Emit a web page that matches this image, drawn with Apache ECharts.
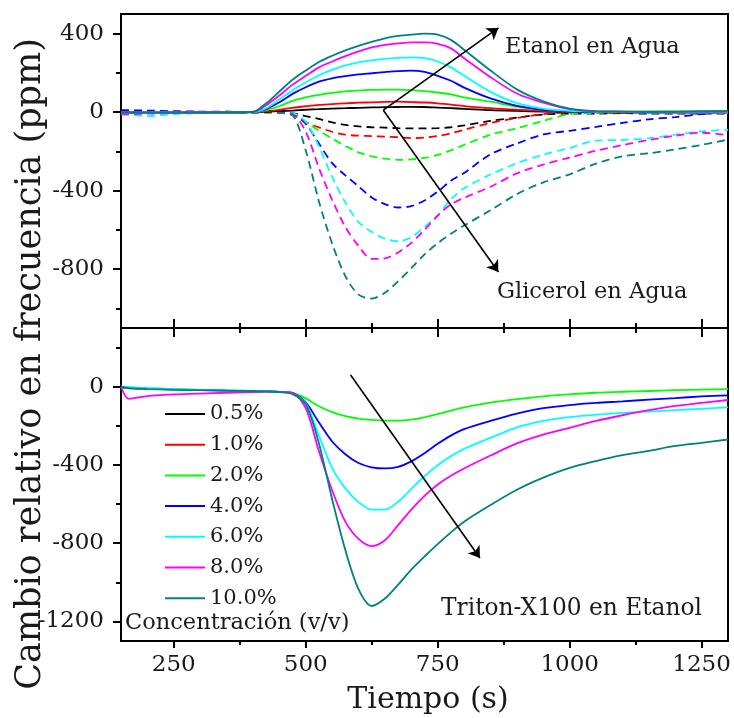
<!DOCTYPE html>
<html><head><meta charset="utf-8">
<script src="https://cdn.jsdelivr.net/npm/echarts@6/dist/echarts.min.js"></script>
<style>html,body{margin:0;padding:0;background:#fff}#c{width:734px;height:718px}</style>
</head><body><div id="c"></div>
<script>
// ---- data ----
const LABELS = ['0.5%','1.0%','2.0%','4.0%','6.0%','8.0%','10.0%'];
const COLORS = ['#000000','#ff0000','#00ff00','#0000ff','#00ffff','#ff00ff','#008080'];
const T_TOP = [150,200,250,300,350,400,425,450,475,500,525,550,575,600,625,650,675,700,725,750,775,800,850,900,950,1000,1050,1100,1150,1200,1250,1300];
// Etanol en Agua (solid)
const E05  = [-3,-2,-3,-2,-2,0,2,5,8,12,15,18,20,22,24,25,26,27,26,23,20,17,10,6,3,1,0,-2,0,-3,-2,-3];
const E10  = [-2,-3,-2,-3,-2,0,5,12,22,30,37,41,45,48,50,52,53,51,49,45,38,31,20,12,6,2,0,-1,0,-1,0,-2];
const E20  = [-2,-2,-3,-2,-2,0,10,30,57,75,88,98,106,110,113,115,115,112,107,100,90,75,53,28,12,4,2,2,3,4,4,5];
const E40  = [-2,-2,-2,-2,-1,0,15,50,93,127,155,172,183,192,198,204,209,211,205,185,160,125,70,32,12,3,0,0,-2,0,2,3];
const E60  = [-3,-2,-2,-2,-1,0,20,65,112,152,188,215,238,254,264,271,276,279,275,258,228,185,103,46,18,6,2,0,-2,-3,-2,-2];
const E80  = [-3,-3,-2,-2,-1,0,35,85,140,185,228,258,285,310,330,343,350,355,355,348,325,275,178,95,48,15,3,2,0,0,2,2];
const E100 = [-3,-3,-2,-2,-1,2,45,105,165,212,255,287,315,338,358,376,388,395,400,395,368,318,212,116,55,18,5,3,2,3,4,5];
// Glicerol en Agua (dashed)
const G05  = [0,-2,0,-2,0,-2,0,0,-5,-20,-35,-52,-65,-73,-77,-79,-82,-83,-83,-82,-77,-68,-45,-28,-12,-8,-8,-5,-8,-8,-8,-8];
const G10  = [2,0,-2,0,-2,0,-2,-3,-15,-50,-78,-100,-115,-120,-122,-125,-128,-132,-130,-122,-108,-90,-55,-30,-10,-2,0,-2,0,-3,-2,-3];
const G20  = [0,2,0,0,2,0,-2,-3,-5,-50,-95,-135,-172,-205,-225,-237,-243,-241,-233,-218,-195,-167,-115,-82,-45,-10,-5,-3,-3,-3,-3,-3];
const G40  = [10,8,5,3,2,0,0,-2,-8,-60,-160,-260,-322,-378,-435,-469,-486,-479,-450,-405,-350,-310,-215,-160,-114,-95,-75,-55,-37,-25,-10,0];
const G60  = [-8,-20,-10,-5,-3,-2,0,-2,-5,-50,-175,-330,-460,-560,-610,-645,-658,-638,-585,-525,-445,-388,-318,-260,-217,-183,-145,-142,-133,-115,-98,-90];
const G80  = [-12,-8,-5,-3,-2,-2,0,-2,-10,-100,-285,-447,-585,-682,-748,-745,-715,-666,-600,-528,-470,-437,-380,-312,-267,-232,-197,-168,-142,-120,-105,-117];
const G100 = [-3,-2,0,-2,0,-2,0,-3,-15,-195,-455,-670,-835,-930,-950,-920,-862,-795,-725,-668,-620,-578,-500,-418,-358,-317,-262,-225,-210,-190,-167,-140];
// Triton-X100 en Etanol (solid)
const T_BOT = [150,165,200,250,300,350,400,425,450,475,500,525,550,575,600,625,650,675,700,725,750,775,800,850,900,950,1000,1050,1100,1150,1200,1250,1300];
const X05  = [];
const X10  = [];
const X20  = [0,-3,-8,-12,-16,-19,-21,-23,-26,-32,-60,-100,-130,-150,-163,-170,-173,-173,-168,-157,-140,-122,-106,-82,-64,-49,-39,-31,-26,-22,-18,-15,-12];
const X40  = [-5,-6,-10,-14,-18,-20,-22,-23,-26,-33,-80,-183,-280,-345,-390,-412,-418,-410,-382,-340,-292,-250,-217,-175,-138,-110,-94,-83,-75,-66,-58,-50,-44];
const X60  = [0,-3,-8,-12,-16,-19,-21,-23,-26,-35,-85,-250,-415,-520,-590,-628,-628,-588,-522,-458,-402,-355,-318,-262,-208,-175,-156,-143,-134,-127,-120,-113,-106];
const X80  = [0,-62,-48,-40,-35,-31,-28,-27,-27,-32,-110,-330,-530,-690,-778,-815,-785,-708,-628,-558,-500,-455,-418,-352,-290,-245,-210,-175,-146,-120,-98,-83,-68];
const X100 = [0,-8,-12,-16,-18,-20,-22,-24,-28,-38,-90,-290,-575,-835,-1035,-1121,-1083,-1012,-935,-868,-805,-745,-690,-605,-527,-465,-415,-380,-350,-328,-303,-287,-270];
// axis ticks
const X_MAJOR = [250,500,750,1000,1250];
const X_MINOR = [375,625,875,1125];
const YT_MAJOR = [-800,-400,0,400];
const YT_MINOR = [-1000,-600,-200,200];
const YB_MAJOR = [-1200,-800,-400,0];
const YB_MINOR = [-1000,-600,-200,200];
// arrows (data coordinates)
const ARROW_ETANOL = [[647,10],[865,429]];
const ARROW_GLICEROL = [[647,10],[865,-815]];
const ARROW_TRITON = [[585,60],[830,-876]];

const FONT = '"DejaVu Serif", "Liberation Serif", serif';
const TXT = '#1a1a1a';
const ETANOL = [E05,E10,E20,E40,E60,E80,E100];
const GLICEROL = [G05,G10,G20,G40,G60,G80,G100];
const TRITON = [X05,X10,X20,X40,X60,X80,X100];

function pairs(ts, vs){ return vs.map((v,i)=>[ts[i], v]); }
function arrowML(list){
  return {silent:true, symbol:['none','arrow'], symbolSize:11, animation:false,
    lineStyle:{color:'#000', width:1.6, type:'solid'}, label:{show:false},
    data:list.map(a=>[{coord:a[0]},{coord:a[1]}])};
}

const series = [];
ETANOL.forEach((arr,i)=>series.push({name:'Etanol '+LABELS[i], type:'line', xAxisIndex:0, yAxisIndex:0,
  data:pairs(T_TOP,arr), symbol:'none', smooth:0.3, lineStyle:{color:COLORS[i], width:1.8}, itemStyle:{color:COLORS[i]}, z:3}));
GLICEROL.forEach((arr,i)=>series.push({name:'Glicerol '+LABELS[i], type:'line', xAxisIndex:0, yAxisIndex:0,
  data:pairs(T_TOP,arr), symbol:'none', smooth:0.3, lineStyle:{color:COLORS[i], width:1.8, type:[8,5]}, itemStyle:{color:COLORS[i]}, z:2}));
TRITON.forEach((arr,i)=>series.push({name:LABELS[i], type:'line', xAxisIndex:4, yAxisIndex:2,
  data:pairs(T_BOT,arr), symbol:'none', smooth:0.3, lineStyle:{color:COLORS[i], width:1.8}, itemStyle:{color:COLORS[i]}, z:3}));
series[0].markLine = arrowML([ARROW_ETANOL, ARROW_GLICEROL]);
series[14+2].markLine = arrowML([ARROW_TRITON]);

const fmt = v => String(v);
function xAx(grid, pos, vals, len, inside, labels){
  return {type:'value', gridIndex:grid, position:pos, min:150, max:1300,
    axisLine:{show:false, onZero:false}, splitLine:{show:false},
    axisTick:{show:true, inside:inside, length:len, customValues:vals, lineStyle:{color:'#000', width:2}},
    axisLabel:{show:!!labels, customValues:vals, formatter:fmt, margin:13, fontSize:23, fontFamily:FONT, color:TXT}};
}
function yAx(grid, min, max, vals, len, labels){
  return {type:'value', gridIndex:grid, position:'left', min:min, max:max,
    axisLine:{show:false, onZero:false}, splitLine:{show:false},
    axisTick:{show:true, inside:false, length:len, customValues:vals, lineStyle:{color:'#000', width:2}},
    axisLabel:{show:!!labels, customValues:vals, formatter:fmt, margin:17, fontSize:23, fontFamily:FONT, color:TXT}};
}

const option = {
  animation:false,
  backgroundColor:'#fff',
  grid:[
    {left:121, top:14, width:607, height:314, show:true, borderColor:'#000', borderWidth:2, backgroundColor:'transparent'},
    {left:121, top:328, width:607, height:313, show:true, borderColor:'#000', borderWidth:2, backgroundColor:'transparent'}
  ],
  xAxis:[
    xAx(0,'bottom',X_MAJOR,9,true,false),
    xAx(0,'bottom',X_MINOR,5,true,false),
    xAx(1,'top',X_MAJOR,9,true,false),
    xAx(1,'top',X_MINOR,5,true,false),
    xAx(1,'bottom',X_MAJOR,7,false,true),
    xAx(1,'bottom',X_MINOR,4,false,false)
  ],
  yAxis:[
    yAx(0,-1100,500,YT_MAJOR,8,true),
    yAx(0,-1100,500,YT_MINOR,5,false),
    yAx(1,-1300,300,YB_MAJOR,8,true),
    yAx(1,-1300,300,YB_MINOR,5,false)
  ],
  legend:{orient:'vertical', left:160, top:398, itemWidth:40, itemHeight:14, itemGap:8.7,
    data:LABELS, icon:'path://M0,6 L40,6 L40,8 L0,8 Z',
    textStyle:{fontSize:21, lineHeight:22, fontFamily:FONT, color:TXT}, selectedMode:false},
  graphic:[
    {type:'text', x:31, y:364, rotation:Math.PI/2, style:{text:'Cambio relativo en frecuencia (ppm)', font:'35px '+FONT, fill:TXT, textAlign:'center', textVerticalAlign:'middle'}},
    {type:'text', x:428, y:700, style:{text:'Tiempo (s)', font:'30px '+FONT, fill:TXT, textAlign:'center', textVerticalAlign:'middle'}},
    {type:'text', x:505, y:47, style:{text:'Etanol en Agua', font:'22.5px '+FONT, fill:TXT, textAlign:'left', textVerticalAlign:'middle'}},
    {type:'text', x:497, y:292, style:{text:'Glicerol en Agua', font:'22.5px '+FONT, fill:TXT, textAlign:'left', textVerticalAlign:'middle'}},
    {type:'text', x:441, y:609, style:{text:'Triton-X100 en Etanol', font:'23.3px '+FONT, fill:TXT, textAlign:'left', textVerticalAlign:'middle'}},
    {type:'text', x:125, y:623, style:{text:'Concentración (v/v)', font:'22.5px '+FONT, fill:TXT, textAlign:'left', textVerticalAlign:'middle'}}
  ],
  series:series
};
const chart = echarts.init(document.getElementById('c'), null, {renderer:'canvas'});
chart.setOption(option);
</script></body></html>
